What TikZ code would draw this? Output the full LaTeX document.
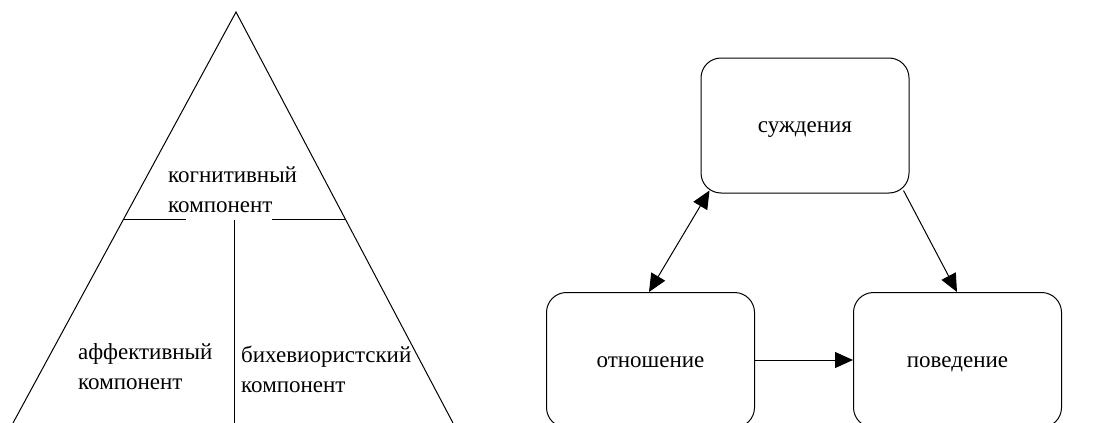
\documentclass[tikz,border=0pt]{standalone}
\usepackage{fontspec}
\setmainfont{Liberation Serif}
\usetikzlibrary{arrows.meta,calc}
\begin{document}
\begin{tikzpicture}[x=1pt,y=-1pt,
  edge/.style={line width=1pt},
  box/.style={draw,line width=1pt,rounded corners=20pt,minimum width=208pt,minimum height=135pt,inner sep=0pt,text height=1ex+10pt,text depth=0pt,font=\fontsize{23}{30}\selectfont},
  lbl/.style={inner sep=0pt,anchor=base west,font=\fontsize{23}{30}\selectfont},
  arr/.style={line width=1pt,-{Triangle[length=18pt,width=16pt]}},
  darr/.style={line width=1pt,{Triangle[length=18pt,width=16pt]}-{Triangle[length=18pt,width=16pt]}}]
\useasboundingbox (0,0) rectangle (1096,423);
\begin{scope}
\clip (0,0) rectangle (1096,423);
% pyramid
\coordinate (apex) at (236,12);
\coordinate (bl) at (13,423);
\coordinate (br) at (453,423);
\draw[edge] (bl) -- (apex) -- (br);
\draw[edge] (124,219) -- (186,219);
\draw[edge] (272,219) -- (345,219);
\draw[edge] (234,220) -- (234,423);
\node[lbl] (cog1) at (168,182) {когнитивный};
\node[lbl] (cog2) at (168,212) {компонент};
\node[lbl] (aff1) at (78,359) {аффективный};
\node[lbl] (aff2) at (78,389) {компонент};
\node[lbl] (beh1) at (241,362) {бихевиористский};
\node[lbl] (beh2) at (241,392) {компонент};
% right diagram
\node[box] (sud) at (805,125.5) {суждения};
\node[box] (otn) at (650.5,360) {отношение};
\node[box] (pov) at (957.5,360) {поведение};
\end{scope}
\coordinate (sudA) at ($(sud.south west)+(9,-3)$);
\coordinate (sudB) at ($(sud.south east)+(-6,-3)$);
\coordinate (otnA) at ($(otn.north west)+(103,0)$);
\coordinate (povA) at ($(pov.north west)+(104,0)$);
\draw[darr] (sudA) -- (otnA);
\draw[arr] (sudB) -- (povA);
\draw[arr] (otn.east) -- (pov.west);
\end{tikzpicture}
\end{document}
